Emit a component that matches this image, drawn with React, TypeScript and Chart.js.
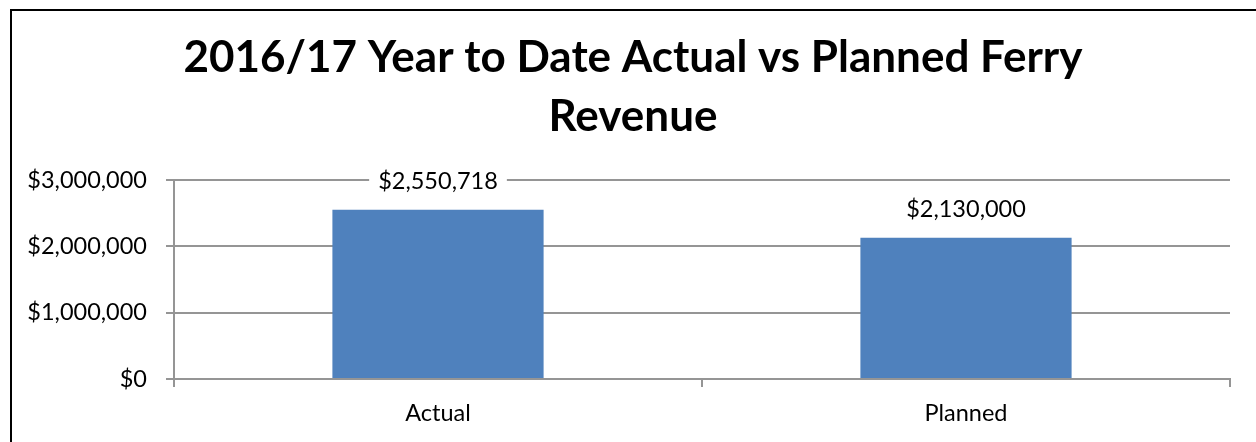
import React, { useEffect, useRef } from 'react';
import { Chart, registerables } from 'chart.js';

Chart.register(...registerables);

const categories = ['Actual', 'Planned'];
const revenue = [2550718, 2130000];
const yMin = 0;
const yMax = 3000000;
const yStep = 1000000;
const titleLines = ['2016/17 Year to Date Actual vs Planned Ferry', 'Revenue'];

const FONT = 'Lato, "Open Sans", sans-serif';
const GRID = '#959595';

const money = (v: number) => '$' + Math.round(v).toLocaleString('en-US');

const framePlugin = {
  id: 'frame',
  afterLayout(chart: any) {
    if (chart.titleBlock) {
      chart.titleBlock.left = 36;
      chart.titleBlock.right = chart.chartArea.right;
      chart.titleBlock.width = chart.titleBlock.right - chart.titleBlock.left;
    }
  },
  beforeDraw(chart: any) {
    const { ctx, width, height } = chart;
    ctx.save();
    ctx.fillStyle = '#ffffff';
    ctx.fillRect(0, 0, width, height);
    ctx.fillStyle = '#000000';
    ctx.fillRect(10, 9, width - 10, 2);
    ctx.fillRect(10, 9, 2, height - 9);
    ctx.restore();
  },
};

const labelPlugin = {
  id: 'barLabels',
  afterDatasetsDraw(chart: any) {
    const { ctx } = chart;
    const meta = chart.getDatasetMeta(0);
    const data = chart.data.datasets[0].data as number[];
    ctx.save();
    ctx.font = `23.5px ${FONT}`;
    ctx.textAlign = 'center';
    ctx.textBaseline = 'middle';
    meta.data.forEach((bar: any, i: number) => {
      const text = money(data[i]);
      const w = ctx.measureText(text).width;
      const cy = bar.y - 28;
      ctx.fillStyle = '#ffffff';
      ctx.fillRect(bar.x - w / 2 - 9, cy - 14, w + 18, 28);
      ctx.fillStyle = '#000000';
      ctx.fillText(text, bar.x, cy);
    });
    ctx.restore();
  },
};

export default function App() {
  const ref = useRef<HTMLCanvasElement | null>(null);

  useEffect(() => {
    if (!ref.current) return;
    const chart = new Chart(ref.current, {
      type: 'bar',
      data: {
        labels: categories,
        datasets: [
          {
            data: revenue,
            backgroundColor: '#4F81BD',
            borderWidth: 0,
            categoryPercentage: 1,
            barPercentage: 0.4,
          },
        ],
      },
      options: {
        responsive: false,
        animation: false,
        layout: { padding: { left: 0, right: 26, top: 0, bottom: 0 } },
        plugins: {
          legend: { display: false },
          tooltip: { enabled: false },
          title: {
            display: true,
            text: titleLines,
            color: '#000000',
            font: { family: FONT, size: 44, weight: 'bold', lineHeight: 1.352 },
            padding: { top: 28, bottom: 33 },
          },
        },
        scales: {
          x: {
            grid: {
              offset: true,
              drawOnChartArea: false,
              drawTicks: true,
              tickLength: 8,
              color: GRID,
              lineWidth: 2,
            },
            border: { color: GRID, width: 2 },
            ticks: { color: '#000000', font: { family: FONT, size: 23.5 }, padding: 12 },
            afterFit: (s: any) => {
              s.height = 63;
            },
          },
          y: {
            min: yMin,
            max: yMax,
            grid: { color: GRID, lineWidth: 2, tickLength: 8 },
            border: { color: GRID, width: 2 },
            ticks: {
              stepSize: yStep,
              color: '#000000',
              font: { family: FONT, size: 23.5 },
              padding: 19,
              callback: (v: any) => money(Number(v)),
            },
            afterFit: (s: any) => {
              s.width = 174;
            },
          },
        },
      },
      plugins: [framePlugin, labelPlugin],
    });
    return () => chart.destroy();
  }, []);

  return (
    <div style={{ position: 'fixed', left: 0, top: 0, width: 1256, height: 442, background: '#fff' }}>
      <canvas ref={ref} width={1256} height={442} />
    </div>
  );
}
